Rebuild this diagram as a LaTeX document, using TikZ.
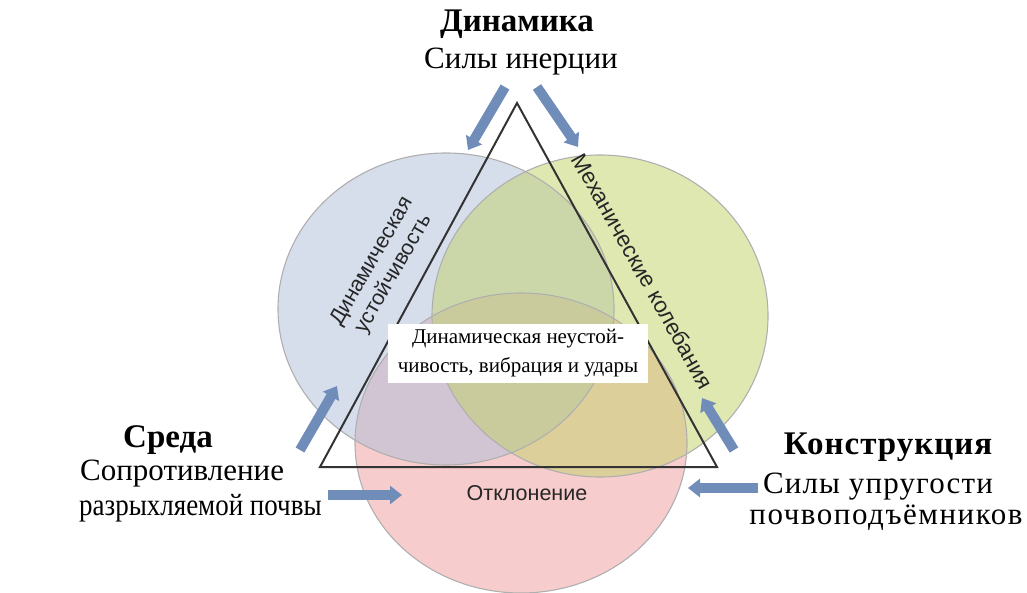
\documentclass[tikz,border=0pt]{standalone}
\usepackage{fontspec}
\setmainfont{Liberation Serif}
\newfontfamily\labelsans{Liberation Sans}
\usetikzlibrary{arrows.meta}

\definecolor{ringblue}{RGB}{176,191,219}
\definecolor{ringgreen}{RGB}{196,210,108}
\definecolor{ringpink}{RGB}{240,158,158}
\definecolor{ringedge}{RGB}{175,175,175}
\definecolor{forcearrow}{RGB}{112,140,184}

\tikzset{
  ring/.style={fill opacity=0.52},
  ringline/.style={draw=ringedge, line width=1.1pt},
  force/.style={draw=forcearrow, line width=10pt,
    -{Triangle[width=18pt,length=12pt]}},
  headline/.style={font=\fontsize{33}{36}\selectfont\bfseries, inner sep=0pt},
  bodyline/.style={font=\fontsize{31}{34}\selectfont, inner sep=0pt},
  edgelabel/.style={font=\labelsans\fontsize{21.5}{25}\selectfont, align=center, inner sep=0pt, text=black!85},
}

\begin{document}
\begin{tikzpicture}[x=1pt,y=-1pt]
  \useasboundingbox (0,0) rectangle (1027,593);

  % three overlapping zones (lowest first)
  \fill[ring, fill=ringpink]  (521,443) ellipse [x radius=166, y radius=150];
  \fill[ring, fill=ringblue]  (446,309) ellipse [x radius=168, y radius=156];
  \fill[ring, fill=ringgreen] (600,316) ellipse [x radius=168, y radius=161];
  \draw[ringline] (521,443) ellipse [x radius=166, y radius=150];
  \draw[ringline] (446,309) ellipse [x radius=168, y radius=156];
  \draw[ringline] (600,316) ellipse [x radius=168, y radius=161];

  % triangle of interactions
  \coordinate (apex) at (517,103);
  \coordinate (left) at (320,467);
  \coordinate (right) at (717,467);
  \draw[black!80, line width=2pt, line join=miter] (apex) -- (left) -- (right) -- cycle;

  % labels along the sides
  \node[edgelabel, rotate=60] (stab) at (383,268) {Динамическая\\устойчивость};
  \node[edgelabel, font=\labelsans\fontsize{22.5}{26}\selectfont, rotate=-60.7] (vib) at (643,271) {Механические колебания};
  \node[edgelabel] (dev) at (527,493) {Отклонение};

  % central box
  \node[fill=white, minimum width=260pt, minimum height=59pt, inner sep=0pt,
        align=center, font=\fontsize{21}{29}\selectfont] (core) at (518,353)
        {Динамическая неустой-\\чивость, вибрация и удары};

  % corner captions
  \node[headline] (dynT) at (517,24) {Динамика};
  \node[bodyline] (dynB) at (521,62) {Силы инерции};

  \node[headline] (envT) at (168,440) {Среда};
  \node[bodyline, anchor=west] (envB1) at (80,474) {Сопротивление};
  \node[bodyline, anchor=west] (envB2) at (79,508) {\scalebox{0.87}[1]{разрыхляемой почвы}};

  \node[headline] (conT) at (888,447) {\addfontfeature{LetterSpace=3}Конструкция};
  \node[bodyline] (conB1) at (878,487) {\addfontfeature{LetterSpace=3.7}Силы упругости};
  \node[bodyline] (conB2) at (886,518) {\addfontfeature{LetterSpace=5}почвоподъёмников};

  % force arrows
  \coordinate (a1s) at (505,87);  \coordinate (a1e) at (468,150);
  \coordinate (a2s) at (537,87);  \coordinate (a2e) at (578,147);
  \coordinate (a3s) at (300,450); \coordinate (a3e) at (337,386);
  \coordinate (a4s) at (328,495); \coordinate (a4e) at (402,495);
  \coordinate (a5s) at (734,450); \coordinate (a5e) at (702,398);
  \coordinate (a6s) at (758,488); \coordinate (a6e) at (688,488);
  \draw[force] (a1s) -- (a1e);
  \draw[force] (a2s) -- (a2e);
  \draw[force] (a3s) -- (a3e);
  \draw[force] (a4s) -- (a4e);
  \draw[force] (a5s) -- (a5e);
  \draw[force] (a6s) -- (a6e);
\end{tikzpicture}
\end{document}
